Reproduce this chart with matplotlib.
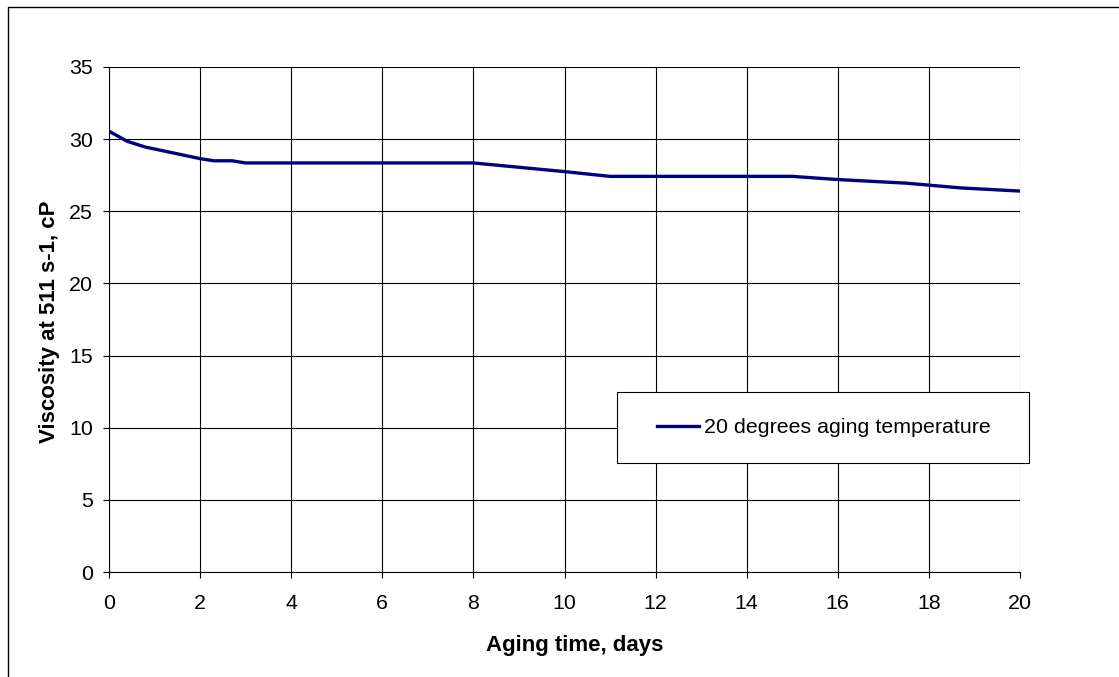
import matplotlib
matplotlib.use("Agg")
import matplotlib.pyplot as plt
from matplotlib.patches import Rectangle

days = [0, 0.4, 0.8, 1.4, 2.0, 2.3, 2.7, 3.0, 8.0, 10.0, 11.0, 15.0, 16.0, 17.5, 18.7, 20.0]
viscosity = [30.55, 29.85, 29.45, 29.05, 28.65, 28.5, 28.5, 28.35, 28.35, 27.75, 27.42, 27.42, 27.2, 26.95, 26.62, 26.4]
series_label = "20 degrees aging temperature"
xticks = list(range(0, 21, 2))
yticks = list(range(0, 36, 5))

plt.rcParams['font.family'] = ['Liberation Sans', 'DejaVu Sans']
FS = 15.4
LFS = 16

W, H = 1119, 677
fig = plt.figure(figsize=(W / 100, H / 100), dpi=100)
fig.patches.append(Rectangle((8 / W, -0.1), 1.2, (H - 7) / H + 0.1, transform=fig.transFigure,
                             fill=False, edgecolor='black', linewidth=1.0))

left, right, top, bottom = 109, 1020, 67, 572
ax = fig.add_axes([left / W, 1 - bottom / H, (right - left) / W, (bottom - top) / H])
ax.plot(days, viscosity, color='#000080', linewidth=2.4, label=series_label, zorder=3)
ax.set_xlim(0, 20)
ax.set_ylim(0, 35)
ax.set_xticks(xticks)
ax.set_yticks(yticks)
ax.grid(True, color='black', linewidth=0.8)
ax.set_axisbelow(True)
for s in ['top', 'right']:
    ax.spines[s].set_visible(False)
for s in ['left', 'bottom']:
    ax.spines[s].set_color('black')
    ax.spines[s].set_linewidth(0.8)
ax.tick_params(axis='both', labelsize=FS, length=4.5, width=0.8, direction='out', colors='black')
ax.tick_params(axis='x', pad=11)
ax.tick_params(axis='y', pad=7)
ax.set_xlabel("Aging time, days", fontsize=LFS, fontweight='bold')
ax.set_ylabel("Viscosity at 511 s-1, cP", fontsize=LFS, fontweight='bold')
ax.xaxis.label.set_va('center')
ax.xaxis.set_label_coords((575 - left) / (right - left), (bottom - 646) / (bottom - top))
ax.yaxis.label.set_va('center')
ax.yaxis.set_label_coords((49 - left) / (right - left), (bottom - 322) / (bottom - top))

# legend box (frame drawn separately so it can be wider than its content)
lx0, ly0, lx1, ly1 = 617, 392, 1029, 463
fig.patches.append(Rectangle((lx0 / W, 1 - ly1 / H), (lx1 - lx0) / W, (ly1 - ly0) / H,
                             transform=fig.transFigure, facecolor='white', edgecolor='black',
                             linewidth=0.8, zorder=4))
handles, labels = ax.get_legend_handles_labels()
leg = fig.legend(handles, labels, loc='center',
                 bbox_to_anchor=((lx0 + lx1) / 2 / W + 1 / W, 1 - (ly0 + ly1) / 2 / H),
                 bbox_transform=fig.transFigure, fontsize=FS, frameon=False,
                 handlelength=1.95, handletextpad=0.22, borderpad=0, borderaxespad=0)
leg.set_zorder(5)

fig.savefig("out.png", dpi=100)
